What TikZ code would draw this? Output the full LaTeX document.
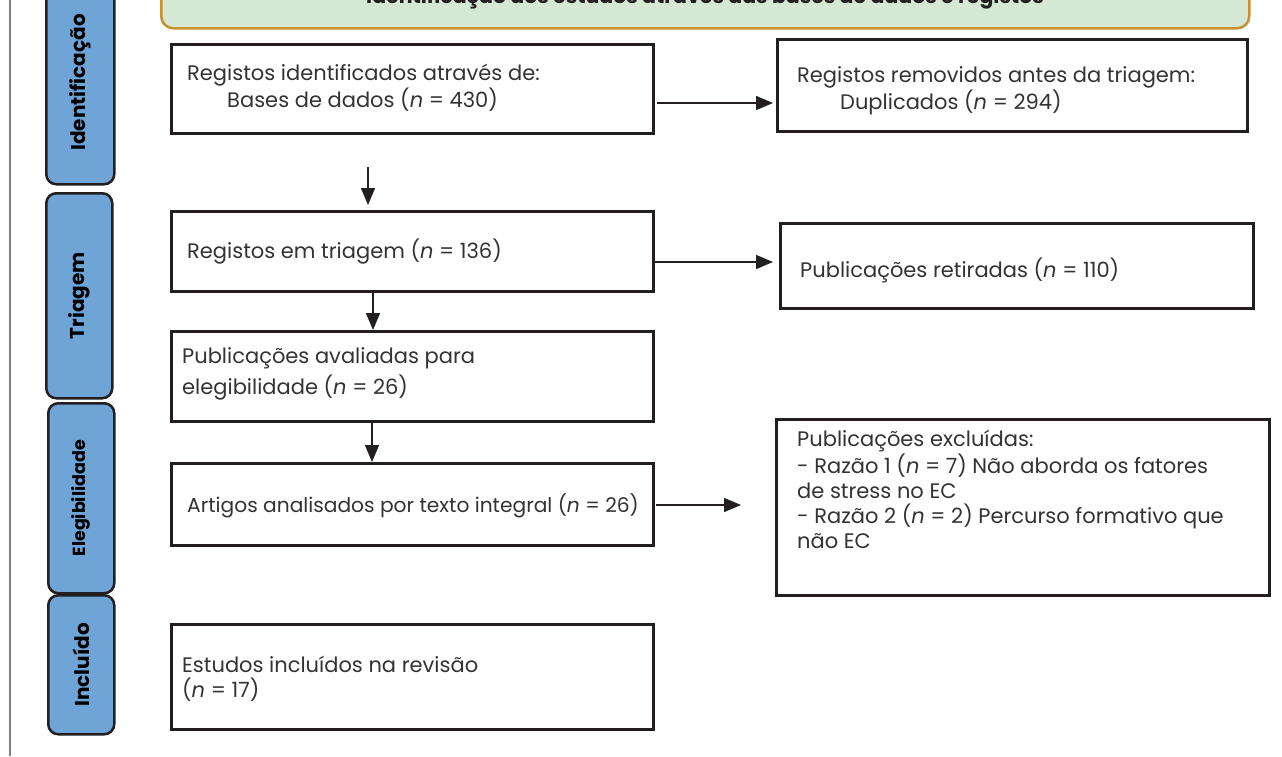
\documentclass[tikz,border=0pt]{standalone}
\usepackage{fontspec}
\setmainfont{Poppins}
\usetikzlibrary{arrows.meta}
\definecolor{boxline}{HTML}{231F20}
\definecolor{txt}{HTML}{333333}
\definecolor{sidefill}{HTML}{6FA4D7}
\definecolor{headfill}{HTML}{D5E8D4}
\definecolor{headline}{HTML}{C9902E}
\tikzset{
  mainbox/.style={draw=boxline, line width=3pt, fill=white, anchor=north west, inner sep=0pt},
  sidebox/.style={draw=boxline, line width=2.5pt, fill=sidefill, rounded corners=10pt, anchor=north west, inner sep=0pt},
  sidetext/.style={rotate=90, font=\bfseries\fontsize{20}{22}\selectfont, text=black},
  boxtext/.style={anchor=base west, inner sep=0pt, font=\fontsize{21}{25}\selectfont, text=txt, align=left},
  flow/.style={line width=1.4pt, draw=boxline, -{Triangle[length=17pt,width=14pt]}},
}
\begin{document}
\begin{tikzpicture}[x=1pt,y=-1pt]
\useasboundingbox (0,0) rectangle (1282,756);
\clip (0,0) rectangle (1282,756);
\fill[white] (0,0) rectangle (1282,756);
% left rule
\coordinate (ltop) at (10,0);
\coordinate (lbot) at (10,756);
\draw[line width=1.5pt, draw=gray] (ltop) -- (lbot);
% header
\node[draw=headline, line width=2.5pt, fill=headfill, rounded corners=12pt, anchor=north west, inner sep=0pt,
      minimum width=1088pt, minimum height=60pt] (head) at (160,-33) {};
\node[anchor=base, inner sep=0pt, font=\bfseries\fontsize{20.5}{22}\selectfont, text=boxline] (headtxt) at (705,3)
  {Identificação dos estudos através das bases de dados e registos};
% side labels
\node[sidebox, minimum width=68pt, minimum height=204pt] (s1) at (45,-21) {};
\node[sidetext] (s1t) at (s1.center) {Identificação};
\node[sidebox, minimum width=66pt, minimum height=205pt] (s2) at (45,192) {};
\node[sidetext] (s2t) at (s2.center) {Triagem};
\node[sidebox, minimum width=66pt, minimum height=190pt] (s3) at (47,402) {};
\node[sidetext, font=\bfseries\fontsize{17.5}{20}\selectfont] (s3t) at (s3.center) {Elegibilidade};
\node[sidebox, minimum width=66pt, minimum height=139pt] (s4) at (47,594) {};
\node[sidetext] (s4t) at (s4.center) {Incluído};
% main boxes
\node[mainbox, minimum width=482pt, minimum height=89pt] (b1) at (170,43) {};
\node[mainbox, minimum width=470pt, minimum height=92pt] (b2) at (776,38) {};
\node[mainbox, minimum width=482pt, minimum height=80pt] (b3) at (170,210) {};
\node[mainbox, minimum width=473pt, minimum height=85pt] (b4) at (779,222) {};
\node[mainbox, minimum width=482pt, minimum height=90pt] (b5) at (170,330) {};
\node[mainbox, minimum width=482pt, minimum height=82pt] (b6) at (170,462) {};
\node[mainbox, minimum width=493pt, minimum height=176pt] (b7) at (775,418) {};
\node[mainbox, minimum width=482pt, minimum height=105pt] (b8) at (170,623) {};
% texts (multi-line nodes: base = baseline of last line)
\node[boxtext] (t1a) at (187,80) {Registos identificados através de:};
\node[boxtext] (t1b) at (227,107) {Bases de dados (\textit{n} = 430)};
\node[boxtext] (t2a) at (797,82) {Registos removidos antes da triagem:};
\node[boxtext] (t2b) at (840,109) {Duplicados (\textit{n} = 294)};
\node[boxtext] (t3) at (187,258) {Registos em triagem (\textit{n} = 136)};
\node[boxtext] (t4) at (800,277) {Publicações retiradas (\textit{n} = 110)};
\node[boxtext, font=\fontsize{21}{31}\selectfont] (t5) at (182,394) {Publicações avaliadas para\\elegibilidade (\textit{n} = 26)};
\node[boxtext, font=\fontsize{20.2}{25}\selectfont] (t6) at (187,512) {Artigos analisados por texto integral (\textit{n} = 26)};
\node[boxtext] (t7) at (797,548) {Publicações excluídas:\\- Razão 1 (\textit{n} = 7) Não aborda os fatores\\de stress no EC\\- Razão 2 (\textit{n} = 2) Percurso formativo que\\não EC};
\node[boxtext] (t8) at (182,697) {Estudos incluídos na revisão\\(\textit{n} = 17)};
% connectors
\coordinate (a1s) at (657,103);
\coordinate (a1e) at (773,103);
\draw[flow] (a1s) -- (a1e);
\coordinate (a2s) at (368,167);
\coordinate (a2e) at (368,205);
\draw[flow] (a2s) -- (a2e);
\coordinate (a3s) at (655,262);
\coordinate (a3e) at (773,262);
\draw[flow] (a3s) -- (a3e);
\draw[flow] (b3.south -| 373,0) -- (b5.north -| 373,0);
\draw[flow] (b5.south -| 372,0) -- (b6.north -| 372,0);
\coordinate (a6s) at (656,505);
\coordinate (a6e) at (741,505);
\draw[flow] (a6s) -- (a6e);
\end{tikzpicture}
\end{document}
